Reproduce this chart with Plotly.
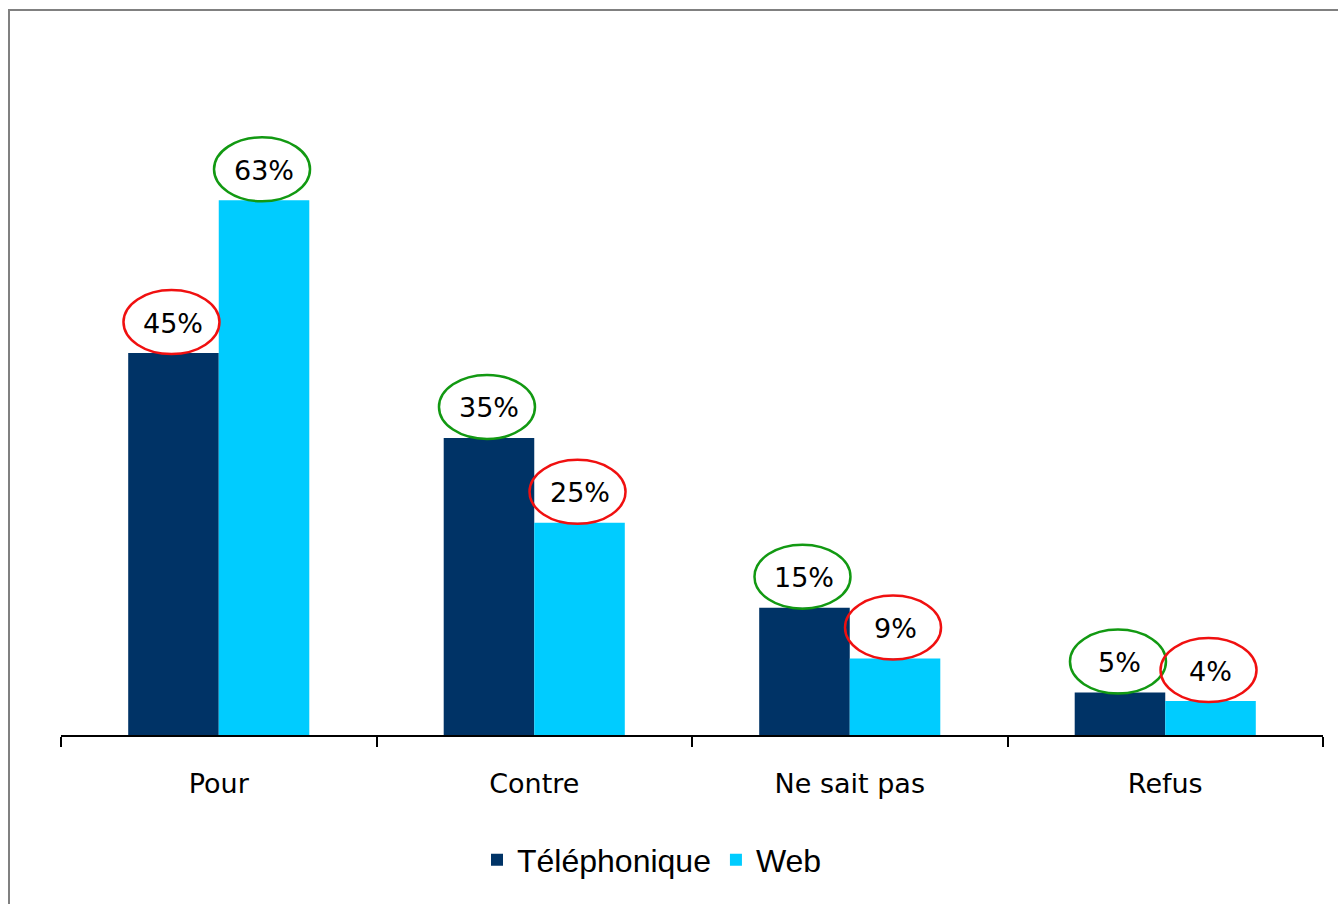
import plotly.graph_objects as go

categories = ["Pour", "Contre", "Ne sait pas", "Refus"]
series_names = ["Téléphonique", "Web"]
tel_values = [45, 35, 15, 5]
web_values = [63, 25, 9, 4]

COL_TEL = "#003366"
COL_WEB = "#00CCFF"
GREEN = "#129912"
RED = "#F01010"
LABEL_FONT = dict(family="DejaVu Sans", size=27, color="#000000")

BARGAP = 0.426
half = (1 - BARGAP) / 4  # center offset of each bar within its group

fig = go.Figure()
fig.add_trace(go.Bar(name=series_names[0], x=categories, y=tel_values,
                     marker=dict(color=COL_TEL, line=dict(width=0))))
fig.add_trace(go.Bar(name=series_names[1], x=categories, y=web_values,
                     marker=dict(color=COL_WEB, line=dict(width=0))))

annotations = []
shapes = []
for i, (t, w) in enumerate(zip(tel_values, web_values)):
    for val, off, other in ((t, -half, w), (w, half, t)):
        xc = i + off
        annotations.append(dict(x=xc, y=val, xref="x", yref="y", text=f"{val}%",
                                showarrow=False, yanchor="middle", yshift=30,
                                font=LABEL_FONT))
        color = GREEN if val > other else RED
        shapes.append(dict(type="circle", xref="x", yref="y",
                           xsizemode="pixel", ysizemode="pixel",
                           xanchor=xc, yanchor=val,
                           x0=-50, x1=46, y0=-1, y1=63,
                           line=dict(color=color, width=2.5), layer="above"))

# outer frame (gray) like the source slide
shapes.append(dict(type="rect", xref="paper", yref="paper",
                   x0=(9 - 61) / 1262, x1=1.2, y0=-0.5, y1=(735 - 10) / 679,
                   line=dict(color="#808080", width=2), layer="below"))

fig.update_layout(
    width=1338, height=904,
    margin=dict(l=61, r=15, t=56, b=169),
    paper_bgcolor="white", plot_bgcolor="white",
    barmode="group", bargap=BARGAP, bargroupgap=0,
    showlegend=True,
    legend=dict(orientation="h", x=(652 - 61) / 1262, xanchor="center",
                y=(735 - 860) / 679, yanchor="middle",
                font=dict(family="Liberation Sans, Arial", size=32, color="#000000"),
                bgcolor="white", itemwidth=30, traceorder="normal"),
    xaxis=dict(type="category", showline=True, linecolor="#000000", linewidth=2,
               ticks="outside", tickson="boundaries", ticklen=10, tickwidth=2,
               tickcolor="#000000", showgrid=False, zeroline=False,
               tickfont=LABEL_FONT, ticklabelstandoff=24),
    yaxis=dict(range=[0, 80], visible=False, showgrid=False, zeroline=False),
    annotations=annotations,
    shapes=shapes,
)

fig.write_html("out.html", config={"displayModeBar": False},
               post_script="document.body.style.margin='0';document.body.style.overflow='hidden';")
